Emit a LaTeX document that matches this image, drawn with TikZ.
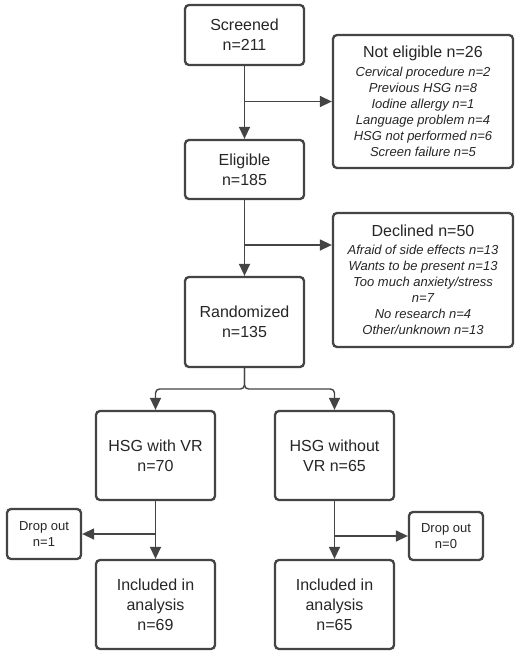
\documentclass[tikz,border=0pt]{standalone}
\usepackage{fontspec}
\setmainfont{Liberation Sans}
\usetikzlibrary{arrows.meta}
\definecolor{ln}{HTML}{444444}
\definecolor{tx}{HTML}{262626}
\tikzset{
  box/.style={draw=ln, line width=2.3pt, rounded corners=4pt, align=center, text=tx,
    inner sep=0pt, font=\fontsize{16}{20}\selectfont},
  listbox/.style={box, font=\fontsize{13}{16}\selectfont\itshape},
  smallbox/.style={box, font=\fontsize{13}{16}\selectfont},
  conn/.style={draw=ln, line width=1.4pt, -{Triangle[length=12pt,width=11pt]}},
}
\begin{document}
\begin{tikzpicture}[x=1pt,y=-1pt]
\useasboundingbox[fill=white] (0,0) rectangle (520,657);
\node[box, minimum width=119pt, minimum height=60pt] (scr) at (244.5,35) {Screened\\n=211};
\node[box, minimum width=119pt, minimum height=59pt] (eli) at (244.5,169.5) {Eligible\\n=185};
\node[box, minimum width=119pt, minimum height=90pt] (ran) at (244.5,322) {Randomized\\n=135};
\node[listbox, minimum width=180pt, minimum height=133pt] (nel) at (423,101.5)
  {{\fontsize{16}{20}\selectfont\upshape Not eligible n=26}\\[3pt]
   Cervical procedure n=2\\Previous HSG n=8\\Iodine allergy n=1\\Language problem n=4\\HSG not performed n=6\\Screen failure n=5};
\node[listbox, minimum width=180pt, minimum height=134pt] (dec) at (423,280)
  {{\fontsize{16}{20}\selectfont\upshape Declined n=50}\\[2pt]
   Afraid of side effects n=13\\Wants to be present n=13\\Too much anxiety/stress\\n=7\\No research n=4\\Other/unknown n=13};
\node[box, minimum width=119pt, minimum height=89pt] (vr) at (155.5,455.5) {HSG with VR\\n=70};
\node[box, minimum width=119pt, minimum height=89pt] (nvr) at (334.5,455.5) {HSG without\\VR n=65};
\node[smallbox, minimum width=74pt, minimum height=50pt] (do1) at (44,534) {Drop out\\n=1};
\node[smallbox, minimum width=74pt, minimum height=48pt] (do2) at (446,536) {Drop out\\n=0};
\node[box, minimum width=119pt, minimum height=89pt] (in1) at (155.5,604.5) {Included in\\analysis\\n=69};
\node[box, minimum width=119pt, minimum height=89pt] (in2) at (334.5,604.5) {Included in\\analysis\\n=65};
\coordinate (b1) at (scr.south |- nel.west);
\coordinate (b2) at (244.5,245);
\coordinate (b3) at (vr.south |- do1.east);
\coordinate (b4) at (nvr.south |- do2.west);
\coordinate (sp) at (244.5,389);
\draw[conn] (scr) -- (eli);
\draw[conn] (b1) -- (nel.west);
\draw[conn] (eli) -- (ran);
\draw[conn] (b2) -- (b2 -| dec.west);
\draw[conn, rounded corners=4pt] (ran.south) -- (sp) -| (vr.north);
\draw[conn, rounded corners=4pt] (ran.south) -- (sp) -| (nvr.north);
\draw[conn] (vr) -- (in1);
\draw[conn] (b3) -- (do1.east);
\draw[conn] (nvr) -- (in2);
\draw[conn] (b4) -- (do2.west);
\end{tikzpicture}
\end{document}
